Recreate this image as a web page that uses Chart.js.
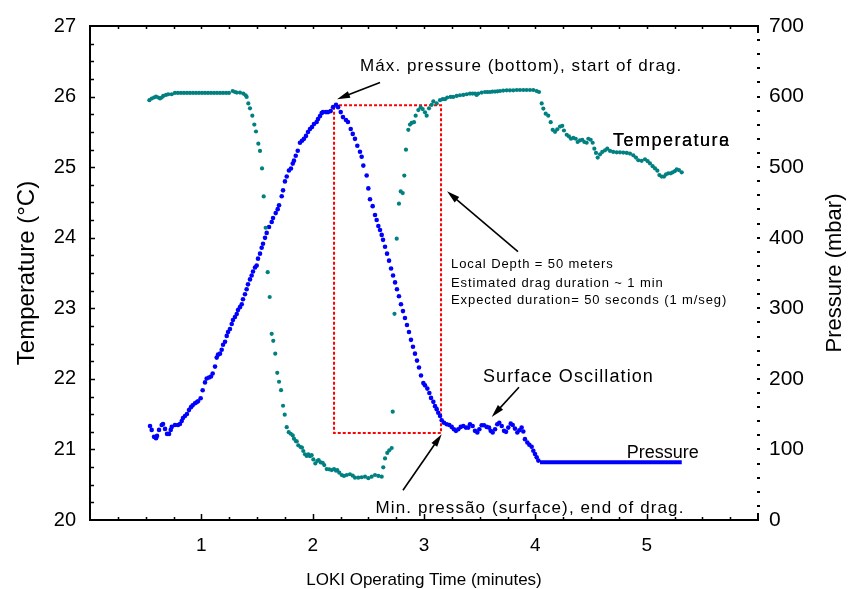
<!DOCTYPE html>
<html>
<head>
<meta charset="utf-8">
<script src="https://cdn.jsdelivr.net/npm/chart.js@4.4.1/dist/chart.umd.min.js"></script>
<style>
  html, body { margin: 0; padding: 0; background: #fff; }
  #wrap { width: 855px; height: 589px; }
</style>
</head>
<body>
<div id="wrap"><canvas id="c" width="855" height="589"></canvas></div>
<script>
// time in minutes, temperature in deg C (left axis)
var tempTime = [0.533, 0.554, 0.575, 0.593, 0.613, 0.629, 0.644, 0.658, 0.683, 0.703, 0.734, 0.763,
    0.790, 0.817, 0.844, 0.871, 0.898, 0.925, 0.952, 0.979, 1.006, 1.033, 1.060, 1.087, 1.114, 1.141,
    1.168, 1.195, 1.222, 1.248, 1.282, 1.302, 1.318, 1.347, 1.377, 1.398, 1.407, 1.422, 1.437, 1.458,
    1.476, 1.491, 1.512, 1.527, 1.545, 1.560, 1.578, 1.596, 1.614, 1.632, 1.646, 1.664, 1.682, 1.698,
    1.716, 1.734, 1.749, 1.767, 1.785, 1.803, 1.821, 1.832, 1.848, 1.857, 1.871, 1.892, 1.904, 1.916,
    1.931, 1.946, 1.961, 1.976, 1.991, 2.006, 2.024, 2.042, 2.054, 2.072, 2.090, 2.104, 2.126, 2.149,
    2.171, 2.192, 2.210, 2.221, 2.239, 2.261, 2.281, 2.306, 2.335, 2.360, 2.380, 2.410, 2.440, 2.470,
    2.500, 2.530, 2.560, 2.590, 2.620, 2.634, 2.650, 2.670, 2.688, 2.710, 2.719, 2.735, 2.755, 2.775,
    2.791, 2.809, 2.823, 2.838, 2.859, 2.874, 2.889, 2.910, 2.925, 2.949, 2.970, 2.988, 3.009, 3.024,
    3.045, 3.069, 3.084, 3.114, 3.144, 3.168, 3.189, 3.209, 3.240, 3.263, 3.294, 3.323, 3.353, 3.384,
    3.413, 3.436, 3.458, 3.473, 3.488, 3.518, 3.548, 3.570, 3.593, 3.615, 3.638, 3.660, 3.683, 3.712,
    3.743, 3.772, 3.802, 3.833, 3.862, 3.892, 3.922, 3.952, 3.982, 4.012, 4.033, 4.057, 4.072, 4.093,
    4.116, 4.138, 4.156, 4.177, 4.197, 4.222, 4.242, 4.257, 4.282, 4.302, 4.320, 4.341, 4.363, 4.380,
    4.401, 4.422, 4.440, 4.461, 4.476, 4.497, 4.515, 4.530, 4.545, 4.560, 4.581, 4.601, 4.626, 4.646,
    4.671, 4.700, 4.731, 4.760, 4.790, 4.821, 4.850, 4.880, 4.904, 4.925, 4.955, 4.985, 5.009, 5.030,
    5.054, 5.075, 5.096, 5.114, 5.135, 5.156, 5.174, 5.194, 5.216, 5.234, 5.254, 5.270, 5.290, 5.315];
var tempValue = [25.949, 25.973, 25.987, 26.000, 25.987, 25.973, 25.987, 26.009, 26.023, 26.033, 26.033, 26.051,
    26.051, 26.051, 26.051, 26.051, 26.051, 26.051, 26.051, 26.051, 26.051, 26.051, 26.051, 26.051, 26.051, 26.051,
    26.051, 26.051, 26.051, 26.051, 26.079, 26.065, 26.057, 26.057, 26.043, 26.019, 25.995, 25.903, 25.833, 25.729,
    25.603, 25.505, 25.332, 25.230, 24.982, 24.585, 24.141, 23.511, 23.160, 22.638, 22.539, 22.357, 22.085, 21.959,
    21.839, 21.619, 21.493, 21.315, 21.245, 21.222, 21.198, 21.152, 21.118, 21.114, 21.058, 21.034, 21.026, 20.978,
    20.932, 20.908, 20.932, 20.904, 20.918, 20.858, 20.802, 20.838, 20.848, 20.816, 20.810, 20.778, 20.722, 20.718,
    20.708, 20.722, 20.698, 20.708, 20.670, 20.638, 20.624, 20.638, 20.648, 20.628, 20.600, 20.600, 20.606, 20.614,
    20.592, 20.614, 20.638, 20.624, 20.614, 20.746, 20.872, 20.950, 20.988, 21.020, 21.535, 22.922, 23.987, 24.482,
    24.656, 24.632, 24.880, 25.248, 25.529, 25.603, 25.627, 25.637, 25.729, 25.809, 25.847, 25.823, 25.777, 25.729,
    25.833, 25.883, 25.931, 25.903, 25.949, 25.963, 25.963, 25.987, 25.995, 25.995, 26.009, 26.019, 26.023, 26.033,
    26.043, 26.043, 26.043, 26.023, 26.043, 26.057, 26.065, 26.065, 26.065, 26.071, 26.071, 26.075, 26.079, 26.085,
    26.089, 26.089, 26.089, 26.093, 26.093, 26.093, 26.093, 26.093, 26.093, 26.079, 26.065, 25.903, 25.830, 25.757,
    25.729, 25.637, 25.529, 25.501, 25.536, 25.575, 25.585, 25.519, 25.459, 25.435, 25.402, 25.416, 25.402, 25.356,
    25.379, 25.388, 25.356, 25.346, 25.402, 25.388, 25.346, 25.262, 25.202, 25.136, 25.182, 25.216, 25.239, 25.262,
    25.230, 25.216, 25.210, 25.210, 25.206, 25.202, 25.192, 25.168, 25.136, 25.098, 25.090, 25.112, 25.084, 25.052,
    25.014, 24.982, 24.950, 24.888, 24.866, 24.866, 24.898, 24.912, 24.912, 24.926, 24.944, 24.968, 24.958, 24.926];

// time in minutes, pressure in mbar (right axis)
var presTime = [0.539, 0.554, 0.575, 0.593, 0.602, 0.620, 0.644, 0.656, 0.674, 0.692, 0.710, 0.725, 0.734,
    0.763, 0.790, 0.808, 0.824, 0.835, 0.853, 0.871, 0.889, 0.907, 0.922, 0.943, 0.958, 0.970, 0.994,
    1.012, 1.033, 1.048, 1.069, 1.087, 1.102, 1.123, 1.138, 1.150, 1.168, 1.183, 1.195, 1.213, 1.228,
    1.240, 1.257, 1.273, 1.284, 1.302, 1.318, 1.329, 1.347, 1.363, 1.374, 1.392, 1.407, 1.419, 1.437,
    1.452, 1.464, 1.482, 1.497, 1.509, 1.527, 1.542, 1.554, 1.572, 1.587, 1.608, 1.632, 1.644, 1.668,
    1.686, 1.698, 1.722, 1.734, 1.751, 1.767, 1.787, 1.805, 1.821, 1.832, 1.848, 1.866, 1.886, 1.904,
    1.922, 1.940, 1.958, 1.976, 1.994, 2.012, 2.036, 2.048, 2.066, 2.081, 2.093, 2.120, 2.138, 2.162,
    2.183, 2.210, 2.228, 2.252, 2.272, 2.299, 2.317, 2.342, 2.360, 2.380, 2.401, 2.425, 2.440, 2.455,
    2.485, 2.500, 2.515, 2.539, 2.560, 2.575, 2.590, 2.605, 2.620, 2.632, 2.650, 2.668, 2.686, 2.704,
    2.722, 2.740, 2.757, 2.775, 2.793, 2.811, 2.829, 2.847, 2.865, 2.883, 2.901, 2.919, 2.937, 2.955,
    2.973, 2.994, 3.009, 3.030, 3.048, 3.063, 3.084, 3.099, 3.114, 3.128, 3.144, 3.159, 3.180, 3.204,
    3.227, 3.249, 3.269, 3.287, 3.308, 3.330, 3.353, 3.377, 3.398, 3.413, 3.437, 3.458, 3.479, 3.497,
    3.518, 3.539, 3.563, 3.584, 3.599, 3.617, 3.638, 3.658, 3.676, 3.698, 3.719, 3.737, 3.757, 3.779,
    3.797, 3.817, 3.838, 3.856, 3.877, 3.892, 3.907, 3.928, 3.946, 3.967, 3.982, 3.997, 4.012, 4.027];
var presValue = [133.3, 127.7, 117.8, 116.0, 119.2, 127.7, 134.7, 136.1, 129.1, 122.0, 122.0, 127.7, 131.9,
    134.7, 134.7, 136.1, 140.3, 144.5, 147.3, 150.1, 155.7, 159.9, 162.7, 165.5, 166.9, 168.3, 172.5,
    183.8, 195.0, 200.6, 202.0, 203.4, 207.6, 217.4, 230.1, 234.3, 235.7, 241.3, 248.3, 252.5, 260.9,
    266.5, 270.7, 277.8, 283.4, 287.6, 291.8, 297.4, 301.6, 305.8, 312.8, 319.8, 326.9, 333.9, 340.9,
    346.5, 352.1, 357.7, 360.5, 370.3, 377.4, 385.8, 391.4, 399.8, 406.8, 415.2, 422.3, 427.9, 434.9,
    440.5, 446.1, 458.7, 467.1, 479.8, 486.8, 495.2, 498.0, 505.0, 509.2, 516.2, 523.2, 534.5, 537.3,
    540.1, 544.3, 549.9, 554.1, 556.9, 561.1, 563.9, 568.1, 572.3, 576.6, 578.0, 578.0, 578.0, 579.4,
    585.0, 588.4, 585.0, 578.0, 570.9, 566.7, 563.9, 554.1, 547.1, 540.1, 530.3, 521.8, 514.8, 502.2,
    488.2, 469.9, 454.5, 444.7, 432.1, 425.1, 416.6, 411.0, 404.0, 397.0, 387.2, 377.4, 367.5, 356.3,
    346.5, 336.7, 326.9, 317.0, 305.8, 296.0, 286.2, 276.4, 266.5, 255.3, 245.5, 235.7, 225.9, 216.0,
    204.8, 194.0, 190.8, 186.2, 180.0, 173.0, 167.4, 161.3, 157.1, 151.9, 147.3, 141.3, 137.9, 135.7,
    134.7, 131.9, 128.6, 126.3, 128.6, 131.9, 133.3, 130.9, 130.9, 135.7, 133.3, 126.3, 123.9, 128.6,
    134.2, 134.2, 131.9, 130.9, 126.3, 123.9, 128.6, 135.7, 137.9, 133.3, 126.3, 124.9, 130.9, 136.5,
    134.7, 129.5, 123.9, 127.2, 130.9, 125.3, 114.6, 109.8, 106.6, 103.8, 98.2, 93.6, 88.8, 84.2];
// logger back at the surface: constant reading
var surfTime = [4.042, 5.315];
var surfValue = [81.8, 81.8];

var xTicks = [1, 2, 3, 4, 5];
var tempTicks = [20, 21, 22, 23, 24, 25, 26, 27];
var presTicks = [0, 100, 200, 300, 400, 500, 600, 700];

// drag window (time from/to, pressure from/to)
var dragBox = [2.192, 3.153, 123.4, 587.8];

var noteText = ['Máx. pressure (bottom), start of drag.', 'Local Depth = 50 meters',
    'Estimated drag duration ~ 1 min', 'Expected duration= 50 seconds (1 m/seg)',
    'Surface Oscillation', 'Min. pressão (surface), end of drag.', 'Pressure'];
var noteTime = [2.425, 3.243, 3.243, 3.243, 3.530, 2.565, 4.821];
var notePres = [642.5, 361.9, 335.3, 311.4, 202.0, 16.8, 94.4];
var noteSize = [17, 13, 13, 13, 18, 17, 18];
// arrows: [time from, pressure from, time to, pressure to]
var arrowList = [
    [2.605, 620.0, 2.219, 596.2],
    [3.844, 380.2, 3.207, 465.7],
    [3.853, 188.0, 3.608, 145.9],
    [2.811, 42.1, 3.159, 121.6]
];
var tempLabelTime = 4.698;
var tempLabelPres = 536.9;

var TEAL = '#008080';
var BLUE = '#0000ff';
var FONT = "'Liberation Sans', Arial, sans-serif";

Chart.defaults.font.family = FONT;
Chart.defaults.color = '#000';

function pts(xs, ys) {
    return xs.map(function (x, i) { return { x: x, y: ys[i] }; });
}

function drawArrow(ctx, x1, y1, x2, y2) {
    var a = Math.atan2(y2 - y1, x2 - x1);
    var L = 13, W = 3.5;
    ctx.beginPath();
    ctx.moveTo(x1, y1);
    ctx.lineTo(x2 - 8 * Math.cos(a), y2 - 8 * Math.sin(a));
    ctx.stroke();
    ctx.beginPath();
    ctx.moveTo(x2, y2);
    ctx.lineTo(x2 - L * Math.cos(a) + W * Math.sin(a), y2 - L * Math.sin(a) - W * Math.cos(a));
    ctx.lineTo(x2 - L * Math.cos(a) - W * Math.sin(a), y2 - L * Math.sin(a) + W * Math.cos(a));
    ctx.closePath();
    ctx.fill();
}

var boxPlugin = {
    id: 'dragBox',
    beforeDatasetsDraw: function (chart) {
        var ctx = chart.ctx, sx = chart.scales.x, sp = chart.scales.yP;
        var x0 = sx.getPixelForValue(dragBox[0]), x1 = sx.getPixelForValue(dragBox[1]);
        var y0 = sp.getPixelForValue(dragBox[2]), y1 = sp.getPixelForValue(dragBox[3]);
        ctx.save();
        ctx.strokeStyle = '#ff0000';
        ctx.lineWidth = 2;
        ctx.setLineDash([3, 2]);
        ctx.strokeRect(x0, y1, x1 - x0, y0 - y1);
        ctx.restore();
    }
};

var framePlugin = {
    id: 'frame',
    afterDraw: function (chart) {
        var ctx = chart.ctx, a = chart.chartArea;
        var sx = chart.scales.x, st = chart.scales.yT, sp = chart.scales.yP;
        var v, px, py, major;
        ctx.save();
        ctx.strokeStyle = '#000';
        ctx.fillStyle = '#000';

        // top edge
        ctx.lineWidth = 2;
        ctx.beginPath();
        ctx.moveTo(a.left - 1, a.top);
        ctx.lineTo(a.right + 1, a.top);
        ctx.stroke();
        // right corners
        ctx.beginPath();
        ctx.moveTo(a.right, a.top);
        ctx.lineTo(a.right, a.top + 7);
        ctx.moveTo(a.right, a.bottom);
        ctx.lineTo(a.right, a.bottom - 7);
        ctx.moveTo(a.right - 1, a.bottom);
        ctx.lineTo(a.right + 1, a.bottom);
        ctx.stroke();

        // x ticks, bottom (inward) and top (inward)
        ctx.lineWidth = 1.5;
        for (v = 0.25; v < sx.max; v += 0.25) {
            px = Math.round(sx.getPixelForValue(v)) + 0.5;
            major = Math.abs(v - Math.round(v)) < 1e-6;
            ctx.beginPath();
            ctx.moveTo(px, a.bottom);
            ctx.lineTo(px, a.bottom - (major ? 6 : 3));
            ctx.moveTo(px, a.top);
            ctx.lineTo(px, a.top + 3);
            ctx.stroke();
        }
        // temperature ticks (inward)
        for (v = st.min + 0.25; v < st.max; v += 0.25) {
            py = Math.round(st.getPixelForValue(v)) + 0.5;
            major = Math.abs(v - Math.round(v)) < 1e-6;
            ctx.beginPath();
            ctx.moveTo(a.left, py);
            ctx.lineTo(a.left + (major ? 5 : 4), py);
            ctx.stroke();
        }
        // pressure ticks: short dashes form the right edge
        ctx.lineWidth = 2;
        for (v = 20; v < sp.max; v += 20) {
            py = Math.round(sp.getPixelForValue(v));
            ctx.beginPath();
            ctx.moveTo(a.right - 1, py);
            ctx.lineTo(a.right + 2, py);
            ctx.stroke();
        }

        // arrows
        ctx.lineWidth = 1.6;
        arrowList.forEach(function (r) {
            drawArrow(ctx, sx.getPixelForValue(r[0]), sp.getPixelForValue(r[1]),
                sx.getPixelForValue(r[2]), sp.getPixelForValue(r[3]));
        });

        // notes
        ctx.textAlign = 'left';
        ctx.textBaseline = 'middle';
        noteText.forEach(function (t, i) {
            ctx.font = noteSize[i] + 'px ' + FONT;
            ctx.letterSpacing = (i === 6 ? '0px' : (noteSize[i] < 15 ? '0.9px' : '1.1px'));
            ctx.fillText(t, sx.getPixelForValue(noteTime[i]), sp.getPixelForValue(notePres[i]));
        });
        // series label, written twice over itself as in the original
        ctx.font = '18px ' + FONT;
        ctx.letterSpacing = '1.5px';
        px = sx.getPixelForValue(tempLabelTime);
        py = sp.getPixelForValue(tempLabelPres);
        ctx.fillText('Temperature', px, py);
        ctx.fillText('Temperatura', px, py);
        ctx.letterSpacing = '0px';

        // right axis title, reading upward
        ctx.font = '22px ' + FONT;
        ctx.textAlign = 'center';
        ctx.translate(835, (a.top + a.bottom) / 2);
        ctx.rotate(-Math.PI / 2);
        ctx.fillText('Pressure (mbar)', 0, 0);
        ctx.restore();
    }
};

new Chart(document.getElementById('c').getContext('2d'), {
    type: 'scatter',
    data: {
        datasets: [
            {
                label: 'Temperature',
                data: pts(tempTime, tempValue),
                yAxisID: 'yT',
                backgroundColor: TEAL,
                borderWidth: 0,
                pointRadius: 2.1,
                showLine: false
            },
            {
                label: 'Pressure',
                data: pts(presTime, presValue),
                yAxisID: 'yP',
                backgroundColor: BLUE,
                borderWidth: 0,
                pointRadius: 2.3,
                showLine: false
            },
            {
                label: 'Pressure (surface)',
                data: pts(surfTime, surfValue),
                yAxisID: 'yP',
                borderColor: BLUE,
                borderWidth: 4,
                pointRadius: 0,
                showLine: true
            }
        ]
    },
    options: {
        responsive: false,
        animation: false,
        layout: { padding: { top: 21, left: 0, right: 0, bottom: 0 } },
        plugins: {
            legend: { display: false },
            tooltip: { enabled: false }
        },
        scales: {
            x: {
                type: 'linear',
                position: 'bottom',
                min: 0,
                max: 6,
                grid: { display: false, drawTicks: false },
                border: { display: true, color: '#000', width: 2 },
                afterBuildTicks: function (s) {
                    s.ticks = xTicks.map(function (v) { return { value: v }; });
                },
                afterFit: function (s) { s.height = 69; },
                ticks: { font: { size: 19 }, padding: 14, maxRotation: 0 },
                title: {
                    display: true,
                    text: 'LOKI Operating Time (minutes)',
                    font: { size: 17, lineHeight: 1 },
                    padding: { top: 0, bottom: 0 }
                }
            },
            yT: {
                position: 'left',
                min: 20,
                max: 27,
                grid: { display: false, drawTicks: false },
                border: { display: true, color: '#000', width: 2 },
                afterBuildTicks: function (s) {
                    s.ticks = tempTicks.map(function (v) { return { value: v }; });
                },
                afterFit: function (s) { s.width = 90; },
                ticks: { font: { size: 20 }, padding: 14 },
                title: {
                    display: true,
                    text: 'Temperature (°C)',
                    font: { size: 24, lineHeight: 1.2 },
                    padding: { top: 12.5, bottom: 0 }
                }
            },
            yP: {
                position: 'right',
                min: 0,
                max: 700,
                grid: { display: false, drawTicks: false },
                border: { display: false },
                afterBuildTicks: function (s) {
                    s.ticks = presTicks.map(function (v) { return { value: v }; });
                },
                afterFit: function (s) { s.width = 97; },
                ticks: { font: { size: 21 }, padding: 11 }
            }
        }
    },
    plugins: [boxPlugin, framePlugin]
});
</script>
</body>
</html>
